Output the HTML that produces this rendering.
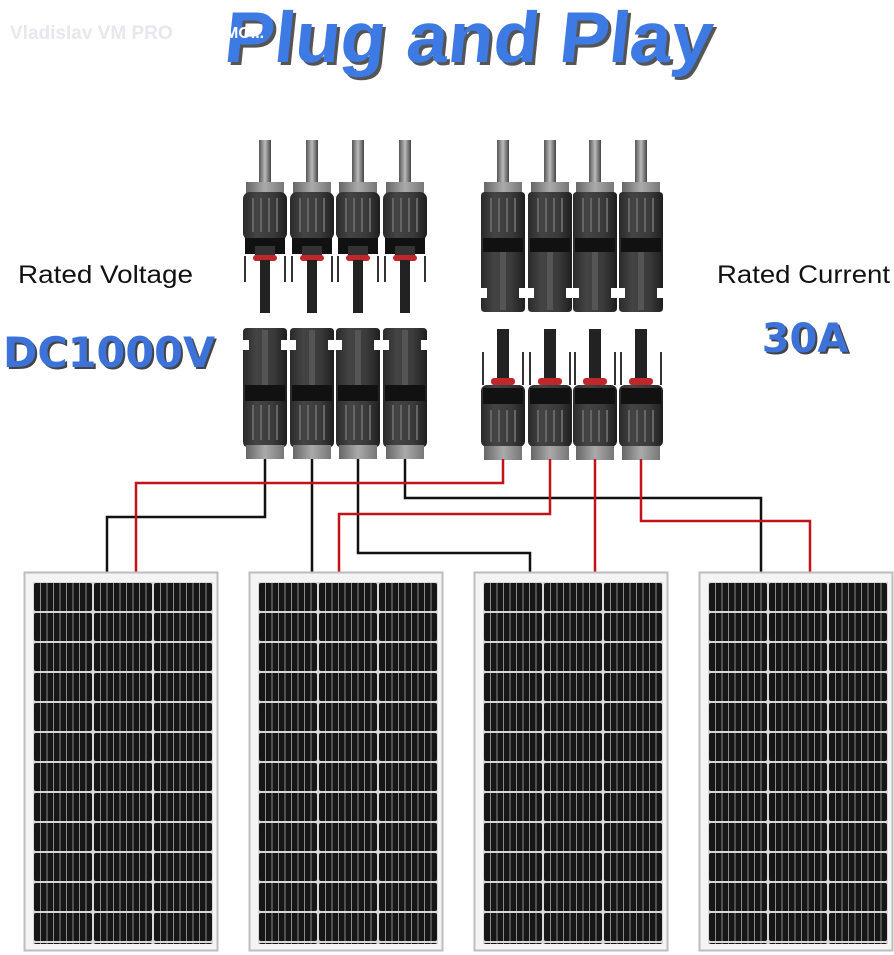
<!DOCTYPE html>
<html><head><meta charset="utf-8"><style>
html,body{margin:0;padding:0;background:#fff;}
body{width:894px;height:955px;overflow:hidden;position:relative;font-family:"Liberation Sans",sans-serif;}
</style></head><body>
<svg width="894" height="955" viewBox="0 0 894 955" xmlns="http://www.w3.org/2000/svg" style="position:absolute;left:0;top:0">
<defs>
<linearGradient id="cab" x1="0" x2="1"><stop offset="0" stop-color="#555"/><stop offset=".5" stop-color="#bbb"/><stop offset="1" stop-color="#444"/></linearGradient>
<linearGradient id="body" x1="0" x2="1"><stop offset="0" stop-color="#2a2a2a"/><stop offset=".3" stop-color="#444"/><stop offset=".7" stop-color="#3a3a3a"/><stop offset="1" stop-color="#1e1e1e"/></linearGradient>
<linearGradient id="nut" x1="0" x2="1"><stop offset="0" stop-color="#666"/><stop offset=".5" stop-color="#aaa"/><stop offset="1" stop-color="#777"/></linearGradient>
<pattern id="cells" x="9" y="10" width="60" height="30" patternUnits="userSpaceOnUse">
<rect x="0" y="0" width="60" height="30" fill="#d8d8d8"/>
<rect x="1" y="1" width="58" height="28" rx="2" fill="#161616"/>
<path d="M7.5 1V29M14 1V29M20.5 1V29M27 1V29M33.5 1V29M40 1V29M46.5 1V29M53 1V29" stroke="#8a8a8a" stroke-width="1"/>
</pattern>
<g id="tl">
<rect x="-6" y="140" width="12" height="44" fill="url(#cab)"/>
<rect x="-19" y="182" width="38" height="12" fill="url(#nut)"/>
<rect x="-22" y="192" width="44" height="48" rx="7" fill="url(#body)"/>
<path d="M-12 198V232M-4 198V232M4 198V232M12 198V232" stroke="#666" stroke-width="2"/>
<rect x="-20" y="238" width="40" height="16" fill="#111"/>
<rect x="-10" y="246" width="20" height="10" fill="#333"/>
<rect x="-12" y="255" width="24" height="6" rx="3" fill="#c0272d"/>
<rect x="-5" y="260" width="10" height="53" fill="#222"/>
<path d="M-20 256V282M20 256V282" stroke="#333" stroke-width="2"/>
</g>
<g id="tr">
<rect x="-6" y="140" width="12" height="44" fill="url(#cab)"/>
<rect x="-19" y="182" width="38" height="12" fill="url(#nut)"/>
<path d="M-22 196Q-22 192 -18 192H18Q22 192 22 196V288H16V298H22V308Q22 312 18 312H-18Q-22 312 -22 308V298H-16V288H-22Z" fill="url(#body)"/>
<path d="M-12 198V232M-4 198V232M4 198V232M12 198V232" stroke="#666" stroke-width="2"/>
<rect x="-20" y="238" width="40" height="14" fill="#111"/>
<rect x="-3" y="252" width="6" height="58" fill="#555"/>
</g>
<g id="bl">
<path d="M-22 332Q-22 328 -18 328H18Q22 328 22 332V340H16V350H22V442Q22 447 17 447H-17Q-22 447 -22 442V350H-16V340H-22Z" fill="url(#body)"/>
<rect x="-3" y="330" width="6" height="55" fill="#555"/>
<rect x="-20" y="385" width="40" height="16" fill="#111"/>
<path d="M-12 405V440M-4 405V440M4 405V440M12 405V440" stroke="#666" stroke-width="2"/>
<rect x="-19" y="445" width="38" height="14" fill="url(#nut)"/>
</g>
<g id="br">
<rect x="-6" y="329" width="12" height="55" fill="#222"/>
<path d="M-20 352V385M20 352V385" stroke="#333" stroke-width="2"/>
<rect x="-12" y="378" width="24" height="7" rx="3" fill="#c0272d"/>
<rect x="-22" y="385" width="44" height="62" rx="6" fill="url(#body)"/>
<rect x="-20" y="388" width="40" height="16" fill="#111"/>
<path d="M-12 410V442M-4 410V442M4 410V442M12 410V442" stroke="#666" stroke-width="2"/>
<rect x="-19" y="446" width="38" height="14" fill="url(#nut)"/>
</g>
<g id="panel">
<rect x="0.5" y="0.5" width="193" height="378" fill="#f4f4f4" stroke="#bdbdbd" stroke-width="2"/>
<rect x="9" y="10" width="180" height="362" fill="url(#cells)"/>
</g>
</defs>

<text x="10" y="39" font-size="19" fill="#e6e8ee" font-weight="bold">Vladislav VM PRO</text>
<text x="225" y="62" font-size="72" font-weight="bold" fill="#555" textLength="488" lengthAdjust="spacingAndGlyphs" transform="translate(3,3) skewX(-6)" style="transform-origin:470px 40px">Plug and Play</text>
<text x="225" y="62" font-size="72" font-weight="bold" fill="#3d7ae4" textLength="488" lengthAdjust="spacingAndGlyphs" transform="skewX(-6)" style="transform-origin:470px 40px">Plug and Play</text>
<text x="225" y="38" font-size="16" fill="#fff" font-weight="bold">MO...</text>

<text x="18" y="283" font-size="25" fill="#111" textLength="175" lengthAdjust="spacingAndGlyphs">Rated Voltage</text>
<text x="717" y="283" font-size="25" fill="#111" textLength="173" lengthAdjust="spacingAndGlyphs">Rated Current</text>
<text x="3" y="367" font-size="42" font-weight="bold" fill="#444" transform="translate(2,2)" font-family="DejaVu Sans, sans-serif" textLength="212" lengthAdjust="spacingAndGlyphs">DC1000V</text>
<text x="3" y="367" font-size="42" font-weight="bold" fill="#3d73d8" font-family="DejaVu Sans, sans-serif" textLength="212" lengthAdjust="spacingAndGlyphs">DC1000V</text>
<text x="805" y="352" text-anchor="middle" font-size="40" font-weight="bold" fill="#444" transform="translate(2,2)" font-family="DejaVu Sans, sans-serif">30A</text>
<text x="805" y="352" text-anchor="middle" font-size="40" font-weight="bold" fill="#3d73d8" font-family="DejaVu Sans, sans-serif">30A</text>

<use href="#tl" x="265"/><use href="#tl" x="312"/><use href="#tl" x="358"/><use href="#tl" x="405"/>
<use href="#tr" x="503"/><use href="#tr" x="550"/><use href="#tr" x="595"/><use href="#tr" x="641"/>
<use href="#bl" x="265"/><use href="#bl" x="312"/><use href="#bl" x="358"/><use href="#bl" x="405"/>
<use href="#br" x="503"/><use href="#br" x="550"/><use href="#br" x="595"/><use href="#br" x="641"/>

<g fill="none" stroke-width="2.5">
<path d="M265 459V517H107V575" stroke="#111"/>
<path d="M312 459V575" stroke="#111"/>
<path d="M358 459V553H530V575" stroke="#111"/>
<path d="M405 459V498H761V575" stroke="#111"/>
<path d="M503 459V483H136V575" stroke="#c0141a"/>
<path d="M550 459V514H339V575" stroke="#c0141a"/>
<path d="M595 459V575" stroke="#c0141a"/>
<path d="M641 459V521H810V575" stroke="#c0141a"/>
</g>

<use href="#panel" x="24" y="572"/>
<use href="#panel" x="249" y="572"/>
<use href="#panel" x="474" y="572"/>
<use href="#panel" x="699" y="572"/>
</svg>
</body></html>
